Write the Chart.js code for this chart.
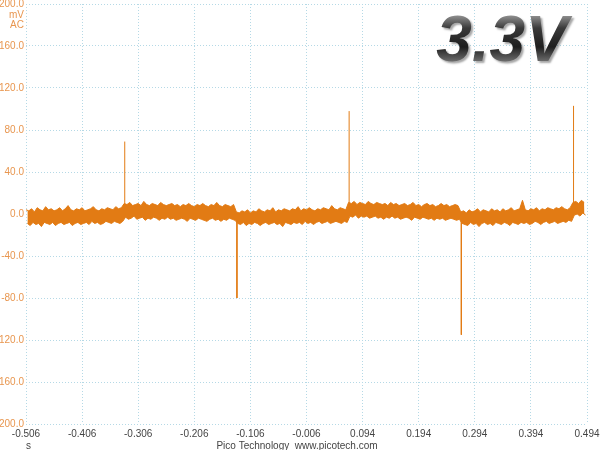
<!DOCTYPE html>
<html>
<head>
<meta charset="utf-8">
<script src="https://cdn.jsdelivr.net/npm/chart.js@4"></script>
<style>
  body { margin: 0; background: #fff; }
  canvas { display: block; }
</style>
</head>
<body>
<canvas id="scope" width="600" height="450"></canvas>
<script>
// time axis (s)
const xTicks = [-0.506, -0.406, -0.306, -0.206, -0.106, -0.006, 0.094, 0.194, 0.294, 0.394, 0.494];
const yTicks = [-200, -160, -120, -80, -40, 0, 40, 80, 120, 160, 200];

// noise band, one bin every 5 ms: upper and lower excursion (mV)
const binStart = -0.506;
const binWidth = 0.005;
const noiseHigh = [
  4, 3, 5, 2, 6, 4, 3, 7, 4, 5, 3, 4, 6, 3, 5, 8, 4, 3, 5, 4, 6, 3, 4, 5, 7, 4, 3, 5, 4, 6, 5, 4, 7, 5, 6,
  10, 9, 11, 8, 9, 10, 8, 12, 9, 8, 10, 9, 8, 11, 9, 8, 9, 10, 8, 9, 7, 9, 8, 10, 8, 7, 9, 8, 10, 8, 7, 9, 8, 11, 8, 7, 9, 8, 7, 9,
  2, 1, 3, 2, 4, 1, 3, 2, 5, 3, 2, 4, 3, 6, 2, 4, 3, 5, 4, 3, 5, 4, 7, 3, 5, 4, 6, 4, 3, 5, 4, 6, 5, 4, 8, 5, 4, 6, 5, 4,
  11, 10, 12, 9, 11, 10, 9, 12, 10, 9, 11, 10, 9, 10, 8, 11, 9, 10, 8, 9, 10, 8, 9, 11, 8, 9, 7, 9, 10, 8, 9, 7, 8, 10, 8, 9, 7, 8, 9, 8,
  2, 3, 1, 4, 2, 3, 5, 2, 4, 3, 2, 5, 3, 4, 2, 5, 3, 4, 6, 3, 4, 5, 13, 4, 3, 5, 4, 6, 3, 5, 4, 6, 5, 4, 6, 5, 7, 5, 4, 6,
  11, 12, 10, 13, 11
];
const noiseLow = [
  -9, -11, -8, -10, -9, -12, -8, -9, -10, -8, -11, -9, -8, -10, -9, -8, -11, -9, -8, -10, -9, -8, -10, -7, -9, -8, -10, -9, -7, -8, -9, -7, -8, -9, -7,
  -3, -5, -4, -2, -5, -4, -3, -6, -4, -5, -3, -4, -6, -4, -5, -3, -5, -4, -6, -5, -4, -5, -7, -4, -5, -6, -4, -5, -6, -7, -5, -4, -6, -5, -7, -5, -6, -4, -5, -6,
  -9, -10, -8, -11, -9, -10, -8, -9, -11, -9, -8, -10, -9, -8, -10, -9, -12, -8, -9, -10, -8, -9, -8, -10, -7, -9, -8, -10, -8, -7, -9, -8, -7, -9, -8, -7, -8, -9, -7, -8,
  -2, -3, -1, -4, -2, -3, -2, -4, -3, -2, -4, -3, -5, -3, -4, -2, -4, -3, -5, -4, -3, -4, -6, -3, -4, -5, -3, -4, -5, -4, -6, -4, -5, -4, -6, -5, -4, -5, -6, -5,
  -9, -10, -11, -8, -10, -9, -12, -9, -8, -10, -9, -11, -8, -9, -10, -8, -9, -11, -8, -9, -10, -8, -9, -8, -10, -9, -7, -8, -10, -8, -7, -9, -8, -7, -9, -8, -7, -8, -6, -7,
  -1, 0, -2, 1, -1
];

// switching spikes
const spikeTimes = [-0.330, -0.130, 0.070, 0.270, 0.470];
const spikePeaks = [69, -80, 98, -115, 103];

const traceColor = '#e27b14';

const highPoints = noiseHigh.map((h, i) => ({ x: binStart + i * binWidth, y: h }));
const lowPoints = noiseLow.map((l, i) => ({ x: binStart + i * binWidth + binWidth / 2, y: l }));

const spikePoints = [];
spikeTimes.forEach((t, i) => {
  spikePoints.push({ x: t, y: 0 });
  spikePoints.push({ x: t, y: spikePeaks[i] });
  spikePoints.push({ x: t, y: null });
});

const extras = {
  id: 'extras',
  beforeDraw(c) {
    const ctx = c.ctx;
    ctx.save();
    ctx.fillStyle = '#fff';
    ctx.fillRect(0, 0, c.width, c.height);
    ctx.restore();
  },
  afterDraw(c) {
    const ctx = c.ctx;
    ctx.save();
    ctx.font = '10px "Liberation Sans", Arial, sans-serif';
    ctx.textAlign = 'right';
    ctx.textBaseline = 'middle';
    ctx.fillStyle = '#e8964f';
    ctx.fillText('mV', 24, 15);
    ctx.fillText('AC', 24, 25);
    ctx.fillStyle = '#444';
    ctx.textAlign = 'left';
    ctx.fillText('s', 26, 446);
    ctx.textAlign = 'center';
    ctx.fillText('Pico Technology  www.picotech.com', 297, 446);

    // big voltage label
    ctx.font = 'italic bold 64px "Liberation Sans", Arial, sans-serif';
    ctx.textAlign = 'center';
    ctx.textBaseline = 'alphabetic';
    const g = ctx.createLinearGradient(0, 14, 0, 61);
    g.addColorStop(0, '#9a9a9a');
    g.addColorStop(0.3, '#3a3a3a');
    g.addColorStop(0.7, '#1e1e1e');
    g.addColorStop(1, '#6a6a6a');
    ctx.shadowColor = 'rgba(0,0,0,0.35)';
    ctx.shadowOffsetX = 2;
    ctx.shadowOffsetY = 2;
    ctx.shadowBlur = 2;
    ctx.fillStyle = g;
    ctx.fillText('3.3V', 502, 61);
    ctx.restore();
  }
};

new Chart(document.getElementById('scope'), {
  type: 'scatter',
  data: {
    datasets: [
      {
        data: highPoints,
        showLine: true,
        borderColor: traceColor,
        borderWidth: 1,
        pointRadius: 0,
        tension: 0
      },
      {
        data: lowPoints,
        showLine: true,
        borderColor: traceColor,
        backgroundColor: traceColor,
        fill: '-1',
        borderWidth: 1,
        pointRadius: 0,
        tension: 0
      },
      {
        data: spikePoints,
        showLine: true,
        spanGaps: false,
        borderColor: traceColor,
        borderWidth: 1,
        pointRadius: 0,
        tension: 0
      }
    ]
  },
  options: {
    responsive: false,
    animation: false,
    devicePixelRatio: 1,
    layout: { padding: { top: 4, right: 13, left: 0, bottom: 0 } },
    plugins: { legend: { display: false }, tooltip: { enabled: false }, filler: { propagate: false } },
    scales: {
      x: {
        type: 'linear',
        min: -0.506,
        max: 0.494,
        afterBuildTicks: axis => { axis.ticks = xTicks.map(v => ({ value: v })); },
        afterFit: axis => { axis.height = 26; axis.paddingLeft = 0; axis.paddingRight = 0; },
        grid: { color: '#b5d9e6', lineWidth: 1, drawTicks: false },
        border: { display: false, dash: [1, 2] },
        ticks: {
          autoSkip: false,
          maxRotation: 0,
          padding: 4,
          color: '#444',
          font: { family: '"Liberation Sans", Arial, sans-serif', size: 10 },
          callback: v => v.toFixed(3)
        }
      },
      y: {
        min: -200,
        max: 200,
        afterBuildTicks: axis => { axis.ticks = yTicks.map(v => ({ value: v })); },
        afterFit: axis => { axis.width = 26; axis.paddingTop = 0; axis.paddingBottom = 0; },
        grid: { color: '#b5d9e6', lineWidth: 1, drawTicks: false },
        border: { display: false, dash: [1, 2] },
        ticks: {
          padding: 2,
          color: '#e8964f',
          font: { family: '"Liberation Sans", Arial, sans-serif', size: 10 },
          callback: v => v.toFixed(1)
        }
      }
    }
  },
  plugins: [extras]
});
</script>
</body>
</html>
